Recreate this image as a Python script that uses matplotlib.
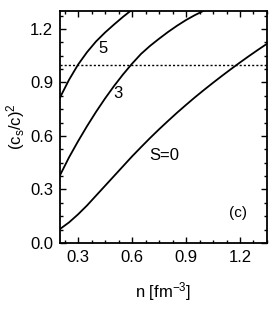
import numpy as np
import matplotlib
matplotlib.use('Agg')
import matplotlib.pyplot as plt
from matplotlib.ticker import MultipleLocator

plt.rcParams['font.family'] = ['Liberation Sans', 'DejaVu Sans']
plt.rcParams['mathtext.fontset'] = 'custom'
plt.rcParams['mathtext.rm'] = 'Liberation Sans'
plt.rcParams['mathtext.it'] = 'Liberation Sans'

# sound speed squared vs density
n_s0 = [0.20, 0.25, 0.30, 0.35, 0.40, 0.45, 0.50, 0.55, 0.60, 0.65, 0.70, 0.75,
        0.80, 0.85, 0.90, 0.95, 1.00, 1.05, 1.10, 1.15, 1.20, 1.25, 1.30, 1.35]
cs_s0 = [0.078, 0.115, 0.16, 0.21, 0.265, 0.32, 0.375, 0.43, 0.485, 0.537, 0.588, 0.637,
         0.684, 0.73, 0.774, 0.817, 0.858, 0.898, 0.937, 0.975, 1.012, 1.048, 1.083, 1.117]

n_s3 = [0.20, 0.25, 0.30, 0.35, 0.40, 0.45, 0.50, 0.55, 0.60, 0.65, 0.70,
        0.75, 0.80, 0.85, 0.90, 0.95, 1.00, 1.05]
cs_s3 = [0.38, 0.48, 0.57, 0.655, 0.735, 0.81, 0.88, 0.945, 1.005, 1.06, 1.105,
         1.145, 1.183, 1.218, 1.25, 1.278, 1.303, 1.327]

n_s5 = [0.20, 0.25, 0.30, 0.35, 0.40, 0.45, 0.50, 0.55, 0.60]
cs_s5 = [0.816, 0.915, 1.00, 1.07, 1.13, 1.18, 1.225, 1.268, 1.308]

fig = plt.figure(figsize=(2.73, 3.09), dpi=100)
ax = fig.add_axes([0.22, 0.214, 0.758, 0.75])

for n, cs in [(n_s0, cs_s0), (n_s3, cs_s3), (n_s5, cs_s5)]:
    ax.plot(n, cs, color='black', lw=1.3)
ax.axhline(1.0, color='black', lw=1.0, ls=(0, (1.5, 1.5)))

ax.text(0.44, 1.09, '5', fontsize=12, ha='center', va='center')
ax.text(0.52, 0.84, '3', fontsize=12, ha='center', va='center')
ax.text(0.78, 0.49, 'S=0', fontsize=12, ha='center', va='center')
ax.text(1.19, 0.17, '(c)', fontsize=11, ha='center', va='center')

ax.set_xlim(0.2, 1.35)
ax.set_ylim(0.0, 1.3)
ax.xaxis.set_major_locator(MultipleLocator(0.3))
ax.xaxis.set_minor_locator(MultipleLocator(0.075))
ax.yaxis.set_major_locator(MultipleLocator(0.3))
ax.yaxis.set_minor_locator(MultipleLocator(0.075))
ax.tick_params(which='both', direction='in', top=True, right=True, labelsize=12)
ax.tick_params(which='major', length=4, width=1, pad=5)
ax.tick_params(which='minor', length=2.5, width=1)
for sp in ax.spines.values():
    sp.set_linewidth(1.3)

ax.set_xlabel('n [fm$^{-3}$]', fontsize=12, labelpad=11)
ax.set_ylabel('(c$_s$/c)$^2$', fontsize=12, labelpad=2)

fig.savefig('out.png', dpi=100)
